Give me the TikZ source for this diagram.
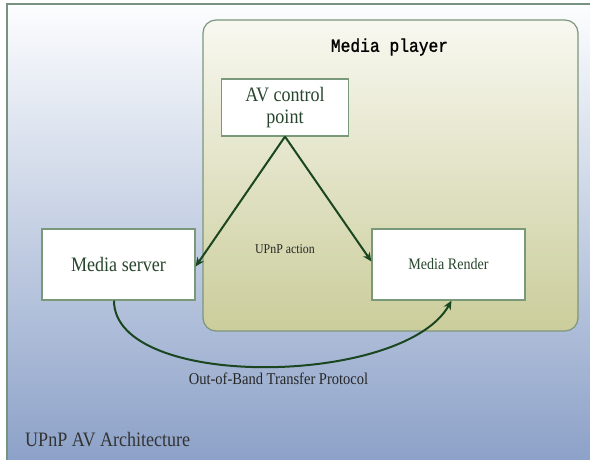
\documentclass[tikz,border=0pt]{standalone}
\usepackage{fontspec}
\setmainfont{Liberation Serif}
\newfontfamily\serifc[FakeStretch=0.88]{Liberation Serif}
\newfontfamily\monoc[FakeStretch=0.88,FakeBold=1.2]{Liberation Mono}
\usetikzlibrary{arrows.meta}

\definecolor{framegray}{RGB}{120,145,128}
\definecolor{boxedge}{RGB}{122,152,122}
\definecolor{arrowgreen}{RGB}{26,70,32}
\definecolor{labelgreen}{RGB}{40,70,45}
\definecolor{bgtop}{RGB}{252,253,254}
\definecolor{bgbottom}{RGB}{140,161,200}
\definecolor{playertop}{RGB}{248,248,240}
\definecolor{playerbottom}{RGB}{203,205,155}
\definecolor{playeredge}{RGB}{125,150,125}

\tikzset{
  devicebox/.style={draw=boxedge, line width=1.2pt, fill=white,
    align=center, text=labelgreen, inner sep=0pt},
  flow/.style={draw=arrowgreen, line width=2pt,
    -{Stealth[length=9pt,width=8pt]}},
  plainlabel/.style={text=black!85, inner sep=0pt},
}

\begin{document}
\begin{tikzpicture}[x=1pt,y=-1pt]
\useasboundingbox (0,0) rectangle (590,459);

% page background with blue gradient frame
\fill[white] (0,0) rectangle (590,459);
\shade[top color=bgtop, bottom color=bgbottom] (7,4) rectangle (595,464);
\draw[framegray, line width=1.4pt] (7,464) -- (7,4) -- (595,4);

% media player container
\shade[top color=playertop, bottom color=playerbottom, rounded corners=13pt]
  (203,20) rectangle (578,331);
\draw[playeredge, line width=1.2pt, rounded corners=13pt]
  (203,20) rectangle (578,331);
\node[plainlabel, text=black, font=\monoc\fontsize{18.5}{20}\selectfont]
  (playertitle) at (389.5,47) {Media player};

% devices
\node[devicebox, minimum width=127pt, minimum height=57pt,
  font=\serifc\fontsize{20.5}{22.7}\selectfont] (acp) at (285,107.5)
  {AV control\\point};
\node[devicebox, minimum width=153pt, minimum height=71pt,
  font=\serifc\fontsize{20.5}{22}\selectfont] (server) at (118.5,264.5)
  {Media server};
\node[devicebox, minimum width=153pt, minimum height=71pt,
  font=\serifc\fontsize{16}{18}\selectfont] (render) at (448.5,264.5)
  {Media Render};

% control actions
\draw[flow] (acp.south) -- ([yshift=-2pt]server.east);
\draw[flow] (acp.south) -- ([yshift=3pt]render.west);
\node[plainlabel, font=\serifc\fontsize{13.5}{15}\selectfont]
  (action) at (285,249) {UPnP action};

% media stream
\draw[flow] ([xshift=-4.5pt]server.south)
  .. controls ([xshift=-4.5pt,yshift=-90pt]server.south)
  and ([xshift=-45pt,yshift=-86pt]render.south)
  .. ([xshift=3pt]render.south);
\node[plainlabel, font=\serifc\fontsize{16.5}{18}\selectfont]
  (transfer) at (278.5,379) {Out-of-Band Transfer Protocol};

% caption
\node[plainlabel, anchor=west, text=black!80,
  font=\serifc\fontsize{20.5}{22}\selectfont]
  (caption) at (25,440) {UPnP AV Architecture};
\end{tikzpicture}
\end{document}
